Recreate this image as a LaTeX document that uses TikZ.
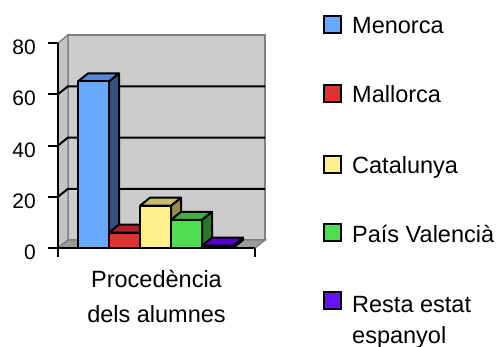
\documentclass[tikz,border=0pt]{standalone}
\usepackage{fontspec}
\setmainfont{Liberation Sans}
\usepackage{tikz}
\usetikzlibrary{calc}
\usetikzlibrary{positioning}

\definecolor{wallgray}{RGB}{204,204,204}
\definecolor{sidegray}{RGB}{196,196,196}
\definecolor{floorgray}{RGB}{154,154,154}
\definecolor{edgegray}{RGB}{128,128,128}
\definecolor{menF}{RGB}{102,170,255}
\definecolor{menS}{RGB}{51,85,128}
\definecolor{menT}{RGB}{85,136,221}
\definecolor{malF}{RGB}{221,51,51}
\definecolor{malS}{RGB}{150,30,30}
\definecolor{malT}{RGB}{176,32,32}
\definecolor{catF}{RGB}{255,240,140}
\definecolor{catS}{RGB}{150,140,80}
\definecolor{catT}{RGB}{200,190,110}
\definecolor{valF}{RGB}{80,221,80}
\definecolor{valS}{RGB}{40,120,40}
\definecolor{valT}{RGB}{60,180,60}
\definecolor{resF}{RGB}{80,0,200}
\definecolor{resS}{RGB}{50,0,130}
\definecolor{resT}{RGB}{85,0,204}
\definecolor{resK}{RGB}{102,17,255}

\tikzstyle{wall} = [draw=edgegray, line width=1.4]
\tikzstyle{grid} = [draw=black, line width=2]
\tikzstyle{axisline} = [draw=black, line width=2]
\tikzstyle{barline} = [draw=black, line width=2, line join=round]
\tikzstyle{ylab} = [draw=none, inner sep=0, anchor=base east, font=\fontsize{21}{24}\selectfont]
\tikzstyle{legbox} = [rectangle, draw=black, line width=2, minimum size=17, inner sep=0]
\tikzstyle{legtext} = [draw=none, inner sep=0, font=\fontsize{23.5}{31}\selectfont]

% one 3d column: left x, top y, front, side, top colour
\newcommand{\chartbar}[5]{%
\filldraw [barline, fill=#4] ({#1+31},248) -- ++(10,-8) -- ({#1+41},{#2-8}) -- ({#1+31},#2) -- cycle;
\filldraw [barline, fill=#5] (#1,#2) -- ++(10,-8) -- ++(31,0) -- ++(-10,8) -- cycle;
\filldraw [barline, fill=#3] (#1,248) rectangle ({#1+31},#2);
}

\begin{document}
\begin{tikzpicture}[x=1pt, y=-1pt]
\useasboundingbox (0,0) rectangle (497,346);
% walls and floor
\filldraw [wall, fill=wallgray] (68,35) rectangle (265,240);
\filldraw [wall, fill=sidegray] (58,43) -- (68,35) -- (68,240) -- (58,248) -- cycle;
\filldraw [wall, fill=floorgray] (58,248) -- (68,240) -- (265,240) -- (255,248) -- cycle;
\draw [grid] (58,196.75) -- (68,188.75) -- (265,188.75);
\draw [grid] (58,145.5) -- (68,137.5) -- (265,137.5);
\draw [grid] (58,94.25) -- (68,86.25) -- (265,86.25);
% columns
\chartbar{78}{81.4}{menF}{menS}{menT}
\chartbar{109}{232.6}{malF}{malS}{malT}
\chartbar{140}{205.7}{catF}{catS}{catT}
\chartbar{171}{219.8}{valF}{valS}{valT}
\chartbar{202}{245.6}{resF}{resS}{resT}
% axes
\draw [axisline] (58,43) -- (58,248);
\draw [axisline] (48,248) -- (255,248);
\draw [axisline] (48,43) -- (58,43);
\draw [axisline] (48,94.25) -- (58,94.25);
\draw [axisline] (48,145.5) -- (58,145.5);
\draw [axisline] (48,196.75) -- (58,196.75);
\draw [axisline] (58,248) -- (58,257);
\draw [axisline] (255,248) -- (255,257);
\node [ylab] (y80) at (36,54.5) {80};
\node [ylab] (y60) at (36,105.75) {60};
\node [ylab] (y40) at (36,157) {40};
\node [ylab] (y20) at (36,208.25) {20};
\node [ylab] (y0) at (36,259.5) {0};
\node [legtext, align=center, anchor=north, font=\fontsize{23.5}{35}\selectfont] (T) at (156.5,270) {Procedència\\dels alumnes};
% legend
\node [legbox, fill=menF] (kMen) at (332.5,24) {};
\node [legbox, fill=malF] (kMal) at (332.5,93) {};
\node [legbox, fill=catF] (kCat) at (332.5,164) {};
\node [legbox, fill=valF] (kVal) at (332.5,232.5) {};
\node [legbox, fill=resK] (kRes) at (332.5,300.5) {};
\node [legtext, anchor=base west] (tMen) at (352,33) {Menorca};
\node [legtext, anchor=base west] (tMal) at (352,102) {Mallorca};
\node [legtext, anchor=base west] (tCat) at (352,173) {Catalunya};
\node [legtext, anchor=base west] (tVal) at (352,242.7) {País Valencià};
\node [legtext, align=left, anchor=north west] (tRes) at (352,296.5) {Resta estat\\espanyol};
\end{tikzpicture}
\end{document}
